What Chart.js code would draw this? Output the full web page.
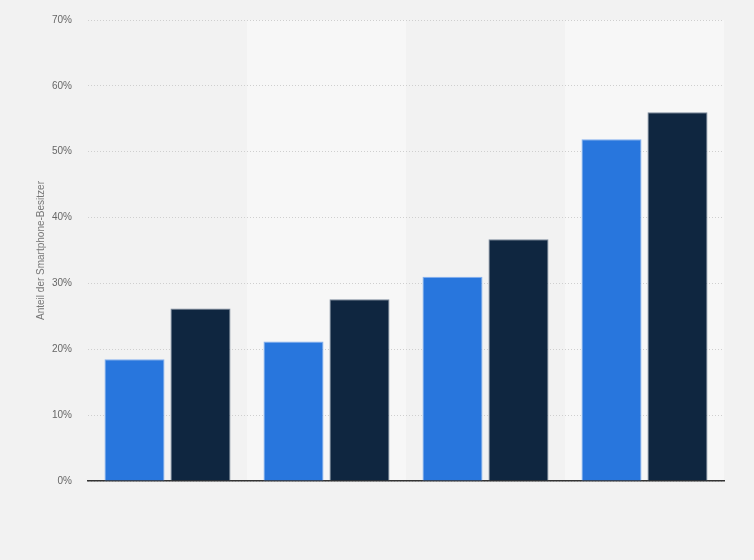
<!DOCTYPE html>
<html>
<head>
<meta charset="utf-8">
<script src="https://cdn.jsdelivr.net/npm/chart.js@4/dist/chart.umd.min.js"></script>
<style>
  html, body { margin: 0; padding: 0; background: #f2f2f2; }
  #wrap { width: 754px; height: 560px; position: relative; }
</style>
</head>
<body>
<div id="wrap"><canvas id="c" width="754" height="560"></canvas></div>
<script>
const categories = ['Gruppe 1', 'Gruppe 2', 'Gruppe 3', 'Gruppe 4'];
const seriesA = [18.5, 21.2, 31.0, 51.9];
const seriesB = [26.2, 27.6, 36.7, 56.0];
const yTickValues = [0, 10, 20, 30, 40, 50, 60, 70];
const yAxisTitle = 'Anteil der Smartphone-Besitzer';

const bandPlugin = {
  id: 'bands',
  beforeDraw(chart) {
    const ctx = chart.ctx;
    const x = chart.scales.x, y = chart.scales.y;
    ctx.save();
    ctx.fillStyle = '#f2f2f2';
    ctx.fillRect(0, 0, chart.width, chart.height);
    const w = (x.right - x.left) / categories.length;
    ctx.fillStyle = '#f7f7f7';
    categories.forEach((c, i) => {
      if (i % 2 === 1) {
        const cx = x.getPixelForValue(i);
        ctx.fillRect(cx - w / 2, y.top, w, y.bottom - y.top);
      }
    });
    ctx.restore();
  }
};

new Chart(document.getElementById('c'), {
  type: 'bar',
  data: {
    labels: categories,
    datasets: [
      { label: 'A', data: seriesA, backgroundColor: '#2876dd', borderColor: 'rgba(120,170,240,0.9)', borderWidth: 1, borderSkipped: 'bottom' },
      { label: 'B', data: seriesB, backgroundColor: '#0f2640', borderColor: 'rgba(110,125,145,0.9)', borderWidth: 1, borderSkipped: 'bottom' }
    ]
  },
  options: {
    responsive: false,
    animation: false,
    devicePixelRatio: 1,
    layout: { padding: { top: 20, right: 30, bottom: 79, left: 0 } },
    datasets: { bar: { categoryPercentage: 0.83, barPercentage: 0.91 } },
    plugins: { legend: { display: false }, tooltip: { enabled: false } },
    scales: {
      x: {
        ticks: { display: false },
        grid: { display: false, drawTicks: false },
        border: { display: true, color: '#333333', width: 1.5 },
        afterFit(s) { s.height = 0; }
      },
      y: {
        min: 0, max: 70,
        afterBuildTicks(s) { s.ticks = yTickValues.map(v => ({ value: v })); },
        ticks: {
          padding: 16,
          color: '#666666',
          font: { family: 'Arial, "Liberation Sans", sans-serif', size: 10 },
          callback: v => v + '%'
        },
        grid: { color: '#cfcfcf', lineWidth: 1, drawTicks: false, tickLength: 0 },
        border: { display: false, dash: [1, 2] },
        title: {
          display: true,
          text: yAxisTitle,
          color: '#777777',
          font: { family: 'Arial, "Liberation Sans", sans-serif', size: 10 },
          padding: { top: 35, bottom: 0 }
        },
        afterFit(s) { s.width = 88; s.paddingTop = 0; s.paddingBottom = 0; }
      }
    }
  },
  plugins: [bandPlugin]
});
</script>
</body>
</html>
